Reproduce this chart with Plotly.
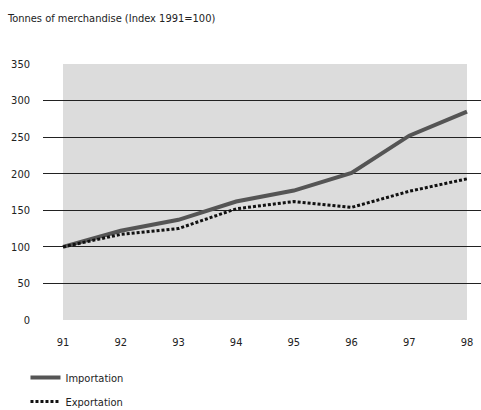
import plotly.graph_objects as go

years = [91, 92, 93, 94, 95, 96, 97, 98]
year_labels = ["91", "92", "93", "94", "95", "96", "97", "98"]
importation = [100, 122, 137, 162, 177, 201, 252, 285]
exportation = [100, 117, 125, 152, 162, 154, 176, 193]
y_ticks = [0, 50, 100, 150, 200, 250, 300, 350]

FONT = "DejaVu Sans Condensed, Liberation Sans Narrow, sans-serif"
TEXT = "#222222"

fig = go.Figure()
fig.add_trace(go.Scatter(
    x=years, y=importation, mode="lines", name="Importation",
    legendgroup="imp",
    line=dict(color="#555555", width=4),
))
fig.add_trace(go.Scatter(
    x=years, y=exportation, mode="lines", name="Exportation",
    legendgroup="exp",
    line=dict(color="#111111", width=3, dash="3px,2px"),
))

# grey panel behind the data
fig.add_shape(type="rect", xref="x", yref="y",
              x0=years[0], x1=years[-1], y0=0, y1=350,
              fillcolor="#dcdcdc", line=dict(width=0), layer="below")

fig.update_layout(
    width=481, height=410,
    margin=dict(l=43, r=0, t=64, b=90),
    plot_bgcolor="white", paper_bgcolor="white",
    font=dict(family=FONT, size=11, color=TEXT),
    title=dict(text="Tonnes of merchandise (Index 1991=100)",
               x=8 / 481, xanchor="left", y=1 - 18 / 410, yanchor="middle",
               font=dict(family=FONT, size=11, color=TEXT)),
    xaxis=dict(range=[90.653, 98.243], tickvals=years, ticktext=year_labels,
               showgrid=False, zeroline=False, showline=False, ticks="",
               ticklabelstandoff=14, automargin=False),
    yaxis=dict(range=[0, 350], tickvals=y_ticks, showgrid=True,
               gridcolor="#222222", gridwidth=1, zeroline=False,
               showline=False, ticks="", ticklabelstandoff=12,
               automargin=False),
    # container-referenced y keeps the legend from resizing the plot area
    legend=dict(orientation="v", xref="paper", yref="container",
                x=-0.04, xanchor="left", y=1 - 363 / 410, yanchor="top",
                font=dict(family=FONT, size=11, color=TEXT),
                itemwidth=30, tracegroupgap=5),
    showlegend=True,
)

fig.write_html("out.html", config={"displayModeBar": False},
               post_script="document.body.style.margin='0';")
